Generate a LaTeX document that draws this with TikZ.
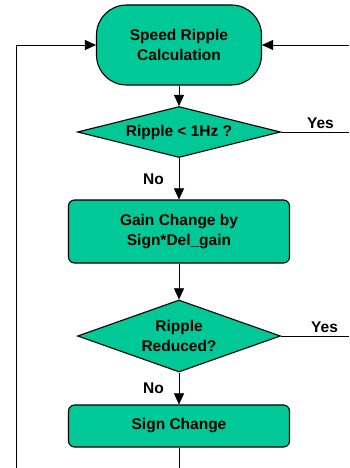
\documentclass[tikz,border=0pt]{standalone}
\usepackage{fontspec}
\setmainfont{Liberation Sans}
\usetikzlibrary{shapes.geometric,arrows.meta}
\definecolor{flowgreen}{RGB}{0,200,150}
\begin{document}
\begin{tikzpicture}[x=1pt,y=-1pt,
    every node/.style={font=\bfseries\fontsize{15.5}{20}\selectfont, align=center, inner sep=0pt},
    terminal/.style={draw, line width=1.1pt, fill=flowgreen, rounded corners=30pt, minimum width=165pt, minimum height=80pt},
    process/.style={draw, line width=1.1pt, fill=flowgreen, rounded corners=6pt, minimum width=221pt},
    decision/.style={draw, line width=1.1pt, fill=flowgreen, diamond, aspect=4, minimum width=203pt},
    flow/.style={-{Triangle[length=11pt,width=10pt]}}]
    \useasboundingbox (0,0) rectangle (349,468);
    % blocks
    \node[terminal] (calc) at (179,45) {Speed Ripple\\Calculation};
    \node[decision, minimum height=51pt] (ripple) at (179,132) {Ripple < 1Hz ?};
    \node[process, minimum height=63pt] (gain) at (179,231.5) {Gain Change by\\Sign*Del\_gain};
    \node[decision, aspect=2.8, minimum height=72pt] (reduced) at (179,336) {Ripple\\Reduced?};
    \node[process, minimum height=42pt] (sign) at (179,426) {Sign Change};
    % free ends
    \coordinate (leftend) at (16,468);
    \coordinate (rightin) at (349,45);
    \coordinate (yes1) at (349,132);
    \coordinate (yes2) at (349,336);
    \coordinate (signend) at (179,468);
    % connectors
    \draw[flow] (calc) -- (ripple);
    \draw[flow] (ripple.south) -- (gain.north);
    \draw[flow] (gain) -- (reduced);
    \draw[flow] (reduced.south) -- (sign.north);
    \draw (sign) -- (signend);
    \draw[flow] (leftend) |- (calc.west);
    \draw[flow] (rightin) -- (calc.east);
    \draw (ripple.east) -- (yes1);
    \draw (reduced.east) -- (yes2);
    % labels
    \path (ripple.south) -- node[left=15pt] (no1) {No} (gain.north);
    \path (reduced.south) -- node[left=15pt] (no2) {No} (sign.north);
    \path (ripple.east) -- node[above=3pt, pos=0.58] (yeslbl1) {Yes} (yes1);
    \path (reduced.east) -- node[above=3pt, pos=0.64] (yeslbl2) {Yes} (yes2);
\end{tikzpicture}
\end{document}
